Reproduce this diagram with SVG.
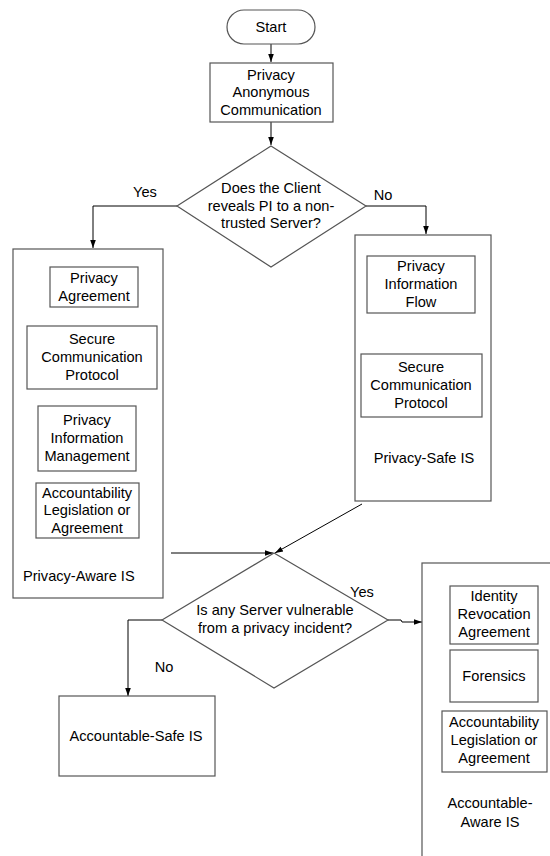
<svg xmlns="http://www.w3.org/2000/svg" width="550" height="856" viewBox="0 0 550 856">
<style>
  text { font-family: "Liberation Sans", Arial, sans-serif; font-size: 14.6px; fill: #000; text-anchor: middle; }
  .box { fill: #fff; stroke: #555; stroke-width: 1.2; }
  .conn { fill: none; stroke: #000; stroke-width: 1; }
</style>
<defs>
  <marker id="arr" viewBox="0 0 10 10" refX="10" refY="5" markerWidth="8" markerHeight="8" orient="auto" markerUnits="userSpaceOnUse">
    <path d="M0,1.5 L10,5 L0,8.5 z" fill="#000"/>
  </marker>
</defs>
<rect width="550" height="856" fill="#fff"/>

<g id="connectors">
  <line class="conn" x1="271" y1="44" x2="271" y2="62" marker-end="url(#arr)"/>
  <line class="conn" x1="271" y1="122" x2="271" y2="145" marker-end="url(#arr)"/>
  <polyline class="conn" points="177,206 93,206 93,248" marker-end="url(#arr)"/>
  <polyline class="conn" points="366,206 426,206 426,234" marker-end="url(#arr)"/>
  <line class="conn" x1="171" y1="553" x2="273" y2="553" marker-end="url(#arr)"/>
  <line class="conn" x1="362" y1="504" x2="275" y2="553" marker-end="url(#arr)"/>
  <polyline class="conn" points="388,620 401,620 402,622 422,622" marker-end="url(#arr)"/>
  <polyline class="conn" points="162,620 128,620 128,696" marker-end="url(#arr)"/>
  <text x="145" y="197">Yes</text>
  <text x="383" y="200">No</text>
  <text x="362" y="597">Yes</text>
  <text x="164" y="672">No</text>
</g>

<g id="start">
  <rect class="box" x="227" y="10" width="88" height="34" rx="17" ry="17"/>
  <text x="271" y="32">Start</text>
</g>

<g id="anon">
  <rect class="box" x="210" y="63" width="123" height="59"/>
  <text x="271" y="80">Privacy</text>
  <text x="271" y="97">Anonymous</text>
  <text x="271" y="115">Communication</text>
</g>

<g id="decision1">
  <polygon class="box" points="271,146 366,206 271,267 177,206"/>
  <text x="271" y="193">Does the Client</text>
  <text x="271" y="211">reveals PI to a non-</text>
  <text x="271" y="228">trusted Server?</text>
</g>

<g id="privacy-aware">
  <rect class="box" x="13" y="249" width="150" height="349"/>
  <rect class="box" x="50" y="267" width="88" height="40"/>
  <text x="94" y="283">Privacy</text>
  <text x="94" y="301">Agreement</text>
  <rect class="box" x="27" y="326" width="130" height="63"/>
  <text x="92" y="344">Secure</text>
  <text x="92" y="362">Communication</text>
  <text x="92" y="380">Protocol</text>
  <rect class="box" x="38" y="406" width="98" height="65"/>
  <text x="87" y="425">Privacy</text>
  <text x="87" y="443">Information</text>
  <text x="87" y="461">Management</text>
  <rect class="box" x="36" y="483" width="103" height="55"/>
  <text x="87" y="498">Accountability</text>
  <text x="87" y="515">Legislation or</text>
  <text x="87" y="533">Agreement</text>
  <text x="23" y="581" style="text-anchor:start">Privacy-Aware IS</text>
</g>

<g id="privacy-safe">
  <rect class="box" x="355" y="235" width="136" height="266"/>
  <rect class="box" x="367" y="256" width="108" height="57"/>
  <text x="421" y="271">Privacy</text>
  <text x="421" y="289">Information</text>
  <text x="421" y="307">Flow</text>
  <rect class="box" x="361" y="354" width="121" height="63"/>
  <text x="421" y="372">Secure</text>
  <text x="421" y="390">Communication</text>
  <text x="421" y="408">Protocol</text>
  <text x="424" y="463">Privacy-Safe IS</text>
</g>

<g id="decision2">
  <polygon class="box" points="274,553 388,620 274,688 162,620"/>
  <text x="275" y="615">Is any Server vulnerable</text>
  <text x="275" y="633">from a privacy incident?</text>
</g>

<g id="accountable-safe">
  <rect class="box" x="59" y="696" width="156" height="80"/>
  <text x="136" y="741">Accountable-Safe IS</text>
</g>

<g id="accountable-aware">
  <rect class="box" x="422" y="563" width="140" height="310"/>
  <rect class="box" x="450" y="586" width="88" height="58"/>
  <text x="494" y="601">Identity</text>
  <text x="494" y="619">Revocation</text>
  <text x="494" y="637">Agreement</text>
  <rect class="box" x="450" y="650" width="88" height="52"/>
  <text x="494" y="681">Forensics</text>
  <rect class="box" x="442" y="711" width="105" height="61"/>
  <text x="494" y="727">Accountability</text>
  <text x="494" y="745">Legislation or</text>
  <text x="494" y="763">Agreement</text>
  <text x="490" y="808">Accountable-</text>
  <text x="490" y="827">Aware IS</text>
</g>
</svg>
